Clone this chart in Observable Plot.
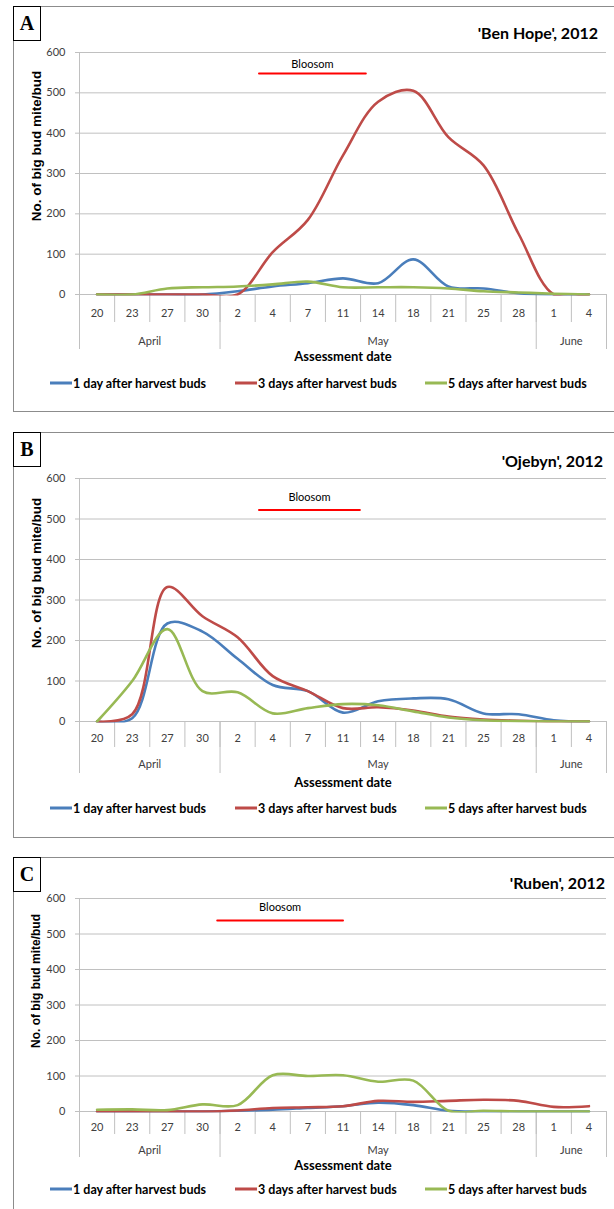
<!DOCTYPE html>
<html><head><meta charset="utf-8">
<script src="https://cdn.jsdelivr.net/npm/d3@7"></script>
<script src="https://cdn.jsdelivr.net/npm/@observablehq/plot@0.6"></script>
<style>
body{margin:0;background:#fff;}
#root{position:relative;width:614px;height:1209px;overflow:hidden;font-family:Lato,sans-serif;color:#000;}
.frame{position:absolute;border:1px solid #8c8c8c;box-sizing:border-box;}
.tag{position:absolute;border:1px solid #000;background:#fff;font-family:"Liberation Serif","DejaVu Serif",serif;font-weight:bold;font-size:20px;display:flex;align-items:center;justify-content:center;box-sizing:border-box;}
.title{position:absolute;font-weight:bold;font-size:16px;white-space:nowrap;transform:translate(-100%,-50%);}
.ylab{position:absolute;font-family:"Liberation Sans",Arial,sans-serif;font-weight:bold;white-space:nowrap;transform:translate(-50%,-50%) rotate(-90deg);}
.item{position:absolute;display:flex;align-items:center;transform:translateY(-50%);font-weight:bold;font-size:12.5px;white-space:nowrap;}
.sw{display:inline-block;width:22px;height:3px;margin-right:1px;}
.plot{position:absolute;left:0;}
</style></head><body><div id="root"></div>
<script>
// ---- data ----
const days = ["20","23","27","30","2","4","7","11","14","18","21","25","28","1","4"];
const months = ["April","May","June"];
const monthCenters = [1.5, 8, 13.5];
const monthBounds = [-0.5, 3.5, 12.5, 14.5];
const yTicks = [0,100,200,300,400,500,600];
const seriesNames = ["1 day after harvest buds","3 days after harvest buds","5 days after harvest buds"];
const seriesColors = ["#4a7ebb","#be4b48","#98b954"];

const benHope1 = [0,0,0,0,8,20,28,40,28,87,20,15,3,0,0];
const benHope3 = [0,0,0,0,0,105,185,345,478,505,390,320,150,0,0];
const benHope5 = [0,0,15,18,20,25,32,18,18,18,15,8,5,2,0];

const ojebyn1 = [0,8,242,222,155,90,75,22,50,57,55,20,18,3,0];
const ojebyn3 = [0,18,332,260,208,112,75,33,35,27,12,5,2,0,0];
const ojebyn5 = [0,100,228,75,72,20,33,43,40,25,10,3,1,0,0];

const ruben1 = [0,0,0,0,2,5,10,15,25,18,2,0,0,0,0];
const ruben3 = [0,0,0,0,3,10,12,15,30,27,30,33,30,13,15];
const ruben5 = [5,6,4,20,18,102,100,102,84,87,2,2,0,0,0];

// blossom period in day-index units, and its level
const blossomA = {x1: 4.61, x2: 7.65, y: 548, labelY: 571};
const blossomB = {x1: 4.61, x2: 7.48, y: 522, labelY: 552};
const blossomC = {x1: 3.42, x2: 7.0, y: 538, labelY: 575};

// ---- layout ----
const panels = [
  {tag:"A", title:"'Ben Hope', 2012", titleX:598, titleY:32, frameTop:6, frameBottom:412, yTop:52, yZero:294, ylabSize:13.5,
   series:[benHope1,benHope3,benHope5], blossom:blossomA, off:{day:19, short:28, month:47, long:55, assess:66, legend:89}},
  {tag:"B", title:"'Ojebyn', 2012", titleX:603, titleY:460, frameTop:432, frameBottom:838, yTop:478, yZero:721, ylabSize:13.5,
   series:[ojebyn1,ojebyn3,ojebyn5], blossom:blossomB, off:{day:17, short:26, month:43, long:52, assess:65, legend:87}},
  {tag:"C", title:"'Ruben', 2012", titleX:605, titleY:882, frameTop:857, frameBottom:1230, yTop:898, yZero:1111, ylabSize:12,
   series:[ruben1,ruben3,ruben5], blossom:blossomC, off:{day:16, short:23, month:39, long:46, assess:58, legend:78}}
];
const legendX = [50, 235, 425];
const grid = "#c0c0c0";
const root = document.getElementById("root");

function el(cls, style, text) {
  const d = document.createElement("div");
  d.className = cls;
  Object.assign(d.style, style);
  if (text != null) d.textContent = text;
  root.appendChild(d);
  return d;
}

for (const p of panels) {
  el("frame", {left:"13px", top:p.frameTop+"px", width:"640px", height:(p.frameBottom-p.frameTop)+"px"});
  el("tag", {left:"13px", top:p.frameTop+"px", width:"28px", height:"35px"}, p.tag);
  el("title", {left:p.titleX+"px", top:p.titleY+"px"}, p.title);

  const h = p.yZero - p.yTop;
  const mt = 24, mb = 80;
  const rows = [];
  p.series.forEach((vals, s) => vals.forEach((v, i) => rows.push({i, v, s: seriesNames[s]})));
  const b = p.blossom;
  const chart = Plot.plot({
    width: 614, height: mt + h + mb,
    marginLeft: 79, marginRight: 8, marginTop: mt, marginBottom: mb,
    x: {type: "linear", domain: [-0.5, 14.5]},
    y: {domain: [0, 600]},
    color: {domain: seriesNames, range: seriesColors},
    style: {fontFamily: "Lato, sans-serif", fontSize: "11px", color: "#404040", background: "transparent", overflow: "visible"},
    marks: [
      Plot.gridY({ticks: yTicks, stroke: grid, strokeOpacity: 1}),
      Plot.axisY({ticks: yTicks, tickSize: 4, tickPadding: 10, stroke: grid, label: null}),
      Plot.ruleX([-0.5], {stroke: grid}),
      Plot.axisX({ticks: d3.range(-0.5, 15, 1), tickSize: p.off.short, tickFormat: () => "", stroke: grid, label: null}),
      Plot.axisX({ticks: monthBounds, tickSize: p.off.long, tickFormat: () => "", stroke: grid, label: null}),
      Plot.axisX({ticks: d3.range(15), tickSize: 0, tickPadding: p.off.day - 4, tickFormat: i => days[i], label: null}),
      Plot.axisX({ticks: monthCenters, tickSize: 0, tickPadding: p.off.month - 4, tickFormat: d => months[monthCenters.indexOf(d)], label: null}),
      Plot.line(rows, {x: "i", y: "v", stroke: "s", z: "s", curve: "catmull-rom", strokeWidth: 2.6, clip: true}),
      Plot.line([{x: b.x1, y: b.y}, {x: b.x2, y: b.y}], {x: "x", y: "y", stroke: "#ff0000", strokeWidth: 2}),
      Plot.text([{x: (b.x1 + b.x2) / 2, y: b.labelY}], {x: "x", y: "y", text: () => "Bloosom", fill: "#000", fontSize: 11}),
      Plot.text(["Assessment date"], {frameAnchor: "bottom", dy: p.off.assess, text: d => d, fill: "#000", fontWeight: "bold", fontSize: 13})
    ]
  });
  // let the clip region include the full stroke width of lines lying on the zero axis
  chart.querySelectorAll("clipPath rect").forEach(r => {
    r.setAttribute("height", +r.getAttribute("height") + 1.6);
  });
  const holder = el("plot", {top: (p.yTop - mt) + "px"});
  holder.appendChild(chart);

  el("ylab", {left: "36px", top: (p.yZero - 0.61 * h) + "px", fontSize: p.ylabSize + "px"}, "No. of big bud mite/bud");

  seriesNames.forEach((name, k) => {
    const it = el("item", {left: legendX[k] + "px", top: (p.yZero + p.off.legend) + "px"});
    const sw = document.createElement("span");
    sw.className = "sw";
    sw.style.background = seriesColors[k];
    it.appendChild(sw);
    it.appendChild(document.createTextNode(name));
  });
}
</script></body></html>
